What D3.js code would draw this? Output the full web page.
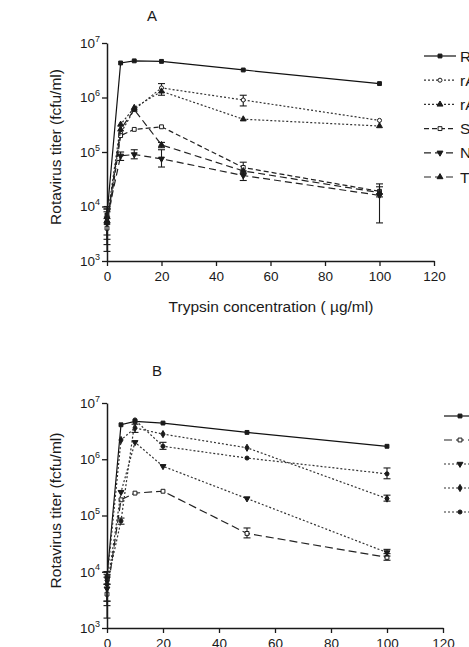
<!DOCTYPE html>
<html><head><meta charset="utf-8">
<script src="https://cdn.jsdelivr.net/npm/d3@7"></script>
<style>
html,body{margin:0;padding:0;background:#fff;overflow:hidden}
svg{display:block;font-family:"Liberation Sans",Arial,Helvetica,sans-serif}
</style></head><body>
<svg id="c" width="469" height="647"></svg>
<script>
// ---------- data ----------
const conc = [0, 5, 10, 20, 50, 100];
const xTicks = [0, 20, 40, 60, 80, 100, 120];
const yTicks = [1e3, 1e4, 1e5, 1e6, 1e7];

// Panel A
const namesA = ["RRV", "rAB", "rAS", "SA11", "NCDV", "TFR-41"];
const a1 = [7e3, 4.3e6, 4.7e6, 4.6e6, 3.2e6, 1.8e6];
const a2 = [5e3, 2.2e5, 6.0e5, 1.5e6, 9.0e5, 3.8e5];
const a3 = [5.5e3, 3.2e5, 6.5e5, 1.3e6, 4.0e5, 3.0e5];
const a4 = [4e3, 2.0e5, 2.6e5, 2.9e5, 5.2e4, 1.9e4];
const a5 = [6e3, 8.5e4, 9.0e4, 7.5e4, 3.7e4, 1.6e4];
const a6 = [5e3, 2.6e5, 6.0e5, 1.35e5, 4.5e4, 1.8e4];
// error bars [low, high] (null = none)
const a1e = [[5e3, 1e4], null, null, null, null, null];
const a2e = [[2e3, 8e3], null, null, [1.1e6, 1.8e6], [7e5, 1.1e6], null];
const a3e = [[1.5e3, 9e3], null, null, null, null, null];
const a4e = [[2.5e3, 6e3], null, null, null, [4e4, 6.5e4], [1.5e4, 2.6e4]];
const a5e = [[3e3, 9e3], [7e4, 1.0e5], [7.5e4, 1.1e5], [5.3e4, 1.1e5], [3e4, 4.5e4], [5e3, 2.3e4]];
const a6e = [null, null, null, [1.2e5, 1.5e5], null, null];

// Panel B
const namesB = ["RRV", "SA11", "rB1", "rB2", "rB3"];
const b1 = [8e3, 4.1e6, 4.7e6, 4.4e6, 3.0e6, 1.7e6];
const b2 = [4e3, 1.9e5, 2.5e5, 2.7e5, 4.8e4, 1.8e4];
const b3 = [5e3, 2.6e5, 2.0e6, 7.5e5, 2.0e5, 2.2e4];
const b4 = [7e3, 2.2e6, 3.6e6, 2.8e6, 1.6e6, 2.0e5];
const b5 = [6e3, 8.0e4, 5.0e6, 1.7e6, 1.05e6, 5.5e5];
const b1e = [[6e3, 1e4], null, null, null, null, null];
const b2e = [[1.5e3, 6e3], null, null, null, [4e4, 6e4], [1.6e4, 2.1e4]];
const b3e = [[2.5e3, 8e3], null, null, null, null, [1.9e4, 2.5e4]];
const b4e = [[3e3, 1e4], null, [3e6, 4.2e6], null, null, [1.8e5, 2.3e5]];
const b5e = [[3e3, 9e3], [7e4, 9e4], null, [1.5e6, 2e6], null, [4.5e5, 7e5]];

const stylesA = [
  {dash: null, mk: "square", fill: true, col: "#111"},
  {dash: "2,2", mk: "circle", fill: false, col: "#333"},
  {dash: "2,2", mk: "triangle", fill: true, col: "#333"},
  {dash: "5,3", mk: "square", fill: false, col: "#222"},
  {dash: "7,4", mk: "tridown", fill: true, col: "#222"},
  {dash: "7,4", mk: "triangle", fill: true, col: "#222"}
];
const stylesB = [
  {dash: null, mk: "square", fill: true, col: "#111"},
  {dash: "8,4", mk: "square", fill: false, col: "#222"},
  {dash: "2,2", mk: "tridown", fill: true, col: "#333"},
  {dash: "2,2", mk: "diamond", fill: true, col: "#333"},
  {dash: "2,2", mk: "circle", fill: true, col: "#333"}
];

const svg = d3.select("#c");
const INK = "#1a1a1a";

function marker(g, type, fill, cx, cy) {
  const sym = {square: d3.symbolSquare, circle: d3.symbolCircle, triangle: d3.symbolTriangle,
               tridown: d3.symbolTriangle, diamond: d3.symbolDiamond}[type];
  const size = type === "circle" ? 13 : 15;
  g.append("path").attr("d", d3.symbol(sym, size)())
    .attr("transform", `translate(${cx},${cy})` + (type === "tridown" ? " rotate(180)" : ""))
    .attr("fill", fill ? INK : "#fff").attr("stroke", INK).attr("stroke-width", 1);
}

function panel(opt) {
  const {x, y, series, errs, styles, names, title, titlePos, legendX, legendY0, legendDy, xTitle} = opt;
  const g = svg.append("g");
  // y axis
  const ay = g.append("g").attr("transform", `translate(${x.range()[0]},0)`)
    .call(d3.axisLeft(y).tickValues(yTicks).tickSize(5).tickSizeOuter(0).tickFormat(() => ""));
  ay.selectAll(".tick text").each(function (d) {
    const t = d3.select(this).text("").attr("font-size", 13.5).attr("fill", INK).attr("x", -7).attr("dy", "0.32em");
    t.append("tspan").text("10");
    t.append("tspan").text(Math.round(Math.log10(d))).attr("font-size", 9).attr("dy", "-0.7em");
  });
  // x axis
  const ax = g.append("g").attr("transform", `translate(0,${y.range()[0]})`)
    .call(d3.axisBottom(x).tickValues(xTicks).tickSize(5).tickSizeOuter(0));
  ax.selectAll(".tick text").attr("font-size", 13.5).attr("fill", INK).attr("dy", "0.9em");
  [ay, ax].forEach(a => {
    a.selectAll("path,line").attr("stroke", INK).attr("stroke-width", 1.3);
    a.select(".domain").attr("stroke-width", 1.5);
  });
  // y title
  g.append("text").attr("transform", `translate(61,${(y.range()[0] + y.range()[1]) / 2 - 5}) rotate(-90)`)
    .attr("text-anchor", "middle").attr("font-size", 15.5).attr("fill", INK).text("Rotavirus titer (fcfu/ml)");
  if (xTitle) {
    g.append("text").attr("x", 271).attr("y", y.range()[0] + 51).attr("text-anchor", "middle")
      .attr("font-size", 15.5).attr("fill", INK).text("Trypsin concentration ( \u00b5g/ml)");
  }
  g.append("text").attr("x", titlePos[0]).attr("y", titlePos[1]).attr("text-anchor", "middle")
    .attr("font-size", 15).attr("fill", INK).text(title);

  const line = d3.line().x((d, i) => x(conc[i])).y(d => y(d));
  series.forEach((s, k) => {
    const st = styles[k];
    g.append("path").attr("d", line(s)).attr("fill", "none").attr("stroke", st.col)
      .attr("stroke-width", 1.2).attr("stroke-dasharray", st.dash);
    errs[k].forEach((e, i) => {
      if (!e) return;
      const cx = x(conc[i]);
      g.append("line").attr("x1", cx).attr("x2", cx).attr("y1", y(e[0])).attr("y2", y(e[1])).attr("stroke", INK).attr("stroke-width", 1.1);
      [e[0], e[1]].forEach(v => g.append("line").attr("x1", cx - 3.5).attr("x2", cx + 3.5)
        .attr("y1", y(v)).attr("y2", y(v)).attr("stroke", INK).attr("stroke-width", 1.1));
    });
    s.forEach((v, i) => marker(g, st.mk, st.fill, x(conc[i]), y(v)));
  });
  // legend
  names.forEach((n, k) => {
    const st = styles[k];
    const ly = legendY0 + k * legendDy;
    g.append("line").attr("x1", legendX).attr("x2", legendX + 32).attr("y1", ly).attr("y2", ly)
      .attr("stroke", st.col).attr("stroke-width", 1.2).attr("stroke-dasharray", st.dash);
    marker(g, st.mk, st.fill, legendX + 16, ly);
    g.append("text").attr("x", legendX + 36).attr("y", ly).attr("dy", "0.36em").attr("font-size", 15.5)
      .attr("fill", INK).text(n);
  });
}

panel({
  x: d3.scaleLinear([0, 120], [107, 434]),
  y: d3.scaleLog([1e3, 1e7], [261, 43]),
  series: [a1, a2, a3, a4, a5, a6], errs: [a1e, a2e, a3e, a4e, a5e, a6e],
  styles: stylesA, names: namesA, title: "A", titlePos: [152, 21],
  legendX: 424, legendY0: 56, legendDy: 24.2, xTitle: true
});
panel({
  x: d3.scaleLinear([0, 120], [107, 443]),
  y: d3.scaleLog([1e3, 1e7], [628, 403]),
  series: [b1, b2, b3, b4, b5], errs: [b1e, b2e, b3e, b4e, b5e],
  styles: stylesB, names: namesB, title: "B", titlePos: [157, 376],
  legendX: 444, legendY0: 416, legendDy: 24, xTitle: true
});
</script></body></html>
